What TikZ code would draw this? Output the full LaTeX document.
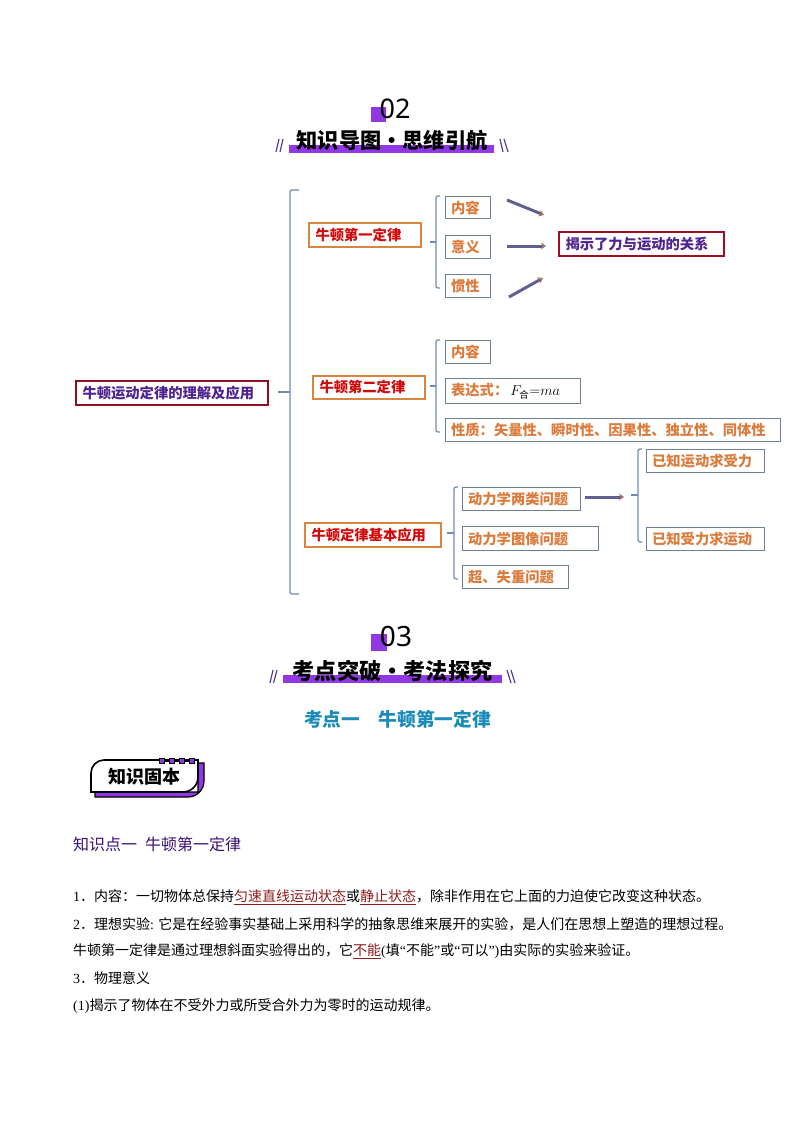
\documentclass[tikz,border=0pt]{standalone}
\usepackage{fontspec}
\setmainfont{Noto Sans CJK SC}
\newfontfamily\latinfont{Liberation Serif}
\newfontfamily\numfont{Noto Sans}
\usepackage{xcolor}
\usetikzlibrary{arrows.meta}
\definecolor{barpurple}{HTML}{9038E4}
\definecolor{slashpurple}{HTML}{5B3A96}
\definecolor{rootred}{HTML}{8E0F24}
\definecolor{rootink}{HTML}{4F2390}
\definecolor{ruleorange}{HTML}{D9843F}
\definecolor{ruleink}{HTML}{D00A0A}
\definecolor{leafline}{HTML}{6E7F98}
\definecolor{leafink}{HTML}{DB7B3C}
\definecolor{braceblue}{HTML}{6F8BB5}
\definecolor{arrowgray}{HTML}{5F6090}
\definecolor{examblue}{HTML}{1B8BB8}
\definecolor{pointink}{HTML}{3A1070}
\definecolor{keyred}{HTML}{8E1A1A}
\newcommand{\keyword}[1]{\textcolor{keyred}{\underline{#1}}}
\newcommand{\lt}[1]{{\latinfont #1}}
\tikzset{
  boxfont/.style={font=\fontsize{14.3}{16}\selectfont\bfseries},
  rootbox/.style={boxfont,draw=rootred,line width=2pt,text=rootink,anchor=north west,inner xsep=6.5pt,inner ysep=0pt,align=left},
  rulebox/.style={boxfont,draw=ruleorange,line width=2pt,text=ruleink,anchor=north west,inner xsep=6.5pt,inner ysep=0pt,align=left},
  leafbox/.style={boxfont,draw=leafline,line width=1.2pt,text=leafink,anchor=north west,inner xsep=5.5pt,inner ysep=0pt,align=left},
  bline/.style={draw=braceblue,line width=1.2pt,rounded corners=2pt},
  arrowline/.style={draw=arrowgray,line width=3pt,-{Stealth[length=5pt,width=7pt,color=ruleorange!60!arrowgray]}},
  slashline/.style={draw=slashpurple,line width=1.2pt},
  bodytext/.style={font=\fontsize{14}{16}\selectfont,anchor=west,inner sep=0pt,text=black},
}
\begin{document}
\begin{tikzpicture}[x=1pt,y=-1pt]
\useasboundingbox (0,0) rectangle (794,1123);
% 标题 02
\fill[barpurple] (371,107) rectangle (386,122);
\node[font=\fontsize{27}{30}\selectfont\numfont,inner sep=0pt,text=black] (numA) at (395,109) {02};
\fill[barpurple] (289,145) rectangle (494,153);
\node[font=\fontsize{21.2}{24}\selectfont\bfseries,inner sep=0pt,text=black] (titleA) at (392,140) {知识导图·思维引航};
\draw[slashline] (276,152) -- (279,139);
\draw[slashline] (280,152) -- (283,139);
\draw[slashline] (500,139) -- (503,152);
\draw[slashline] (504,139) -- (508,152);
% 根节点
\node[rootbox,text width=179pt,minimum height=24pt] (root) at (75,380) {牛顿运动定律的理解及应用};
\coordinate (rootStub) at (278,392);
\coordinate (bigMid) at (290,392);
\coordinate (bigTop) at (299,190);
\coordinate (bigBot) at (299,594);
\draw[bline] (rootStub) -- (bigMid);
\draw[bline] (bigTop) -| (bigMid) |- (bigBot);
% 牛顿第一定律
\node[rulebox,text width=99pt,minimum height=24pt] (ruleA) at (308,222) {牛顿第一定律};
\node[leafbox,text width=34pt,minimum height=22pt] (leafAa) at (445,196) {内容};
\node[leafbox,text width=34pt,minimum height=23pt] (leafAb) at (445,235) {意义};
\node[leafbox,text width=34pt,minimum height=23pt] (leafAc) at (445,274) {惯性};
\node[rootbox,text width=152pt,minimum height=24pt,draw=rootred!85!red] (result) at (558,231) {揭示了力与运动的关系};
\coordinate (stubA) at (430,242);
\coordinate (midA) at (436,242);
\coordinate (topA) at (440,196);
\coordinate (botA) at (440,288);
\draw[bline] (stubA) -- (midA);
\draw[bline] (topA) -| (midA) |- (botA);
\coordinate (arrAa) at (507,200);
\coordinate (arrAb) at (544,215);
\coordinate (arrBa) at (507,246);
\coordinate (arrBb) at (546,246);
\coordinate (arrCa) at (509,297);
\coordinate (arrCb) at (543,278);
\draw[arrowline] (arrAa) -- (arrAb);
\draw[arrowline] (arrBa) -- (arrBb);
\draw[arrowline] (arrCa) -- (arrCb);
% 牛顿第二定律
\node[rulebox,text width=99pt,minimum height=23pt] (ruleB) at (312,375) {牛顿第二定律};
\node[leafbox,text width=34pt,minimum height=23pt] (leafBa) at (445,340) {内容};
\node[leafbox,text width=124pt,minimum height=25pt] (leafBb) at (445,378) {表达式：\mbox{\hspace{2pt}\textcolor{black}{\mdseries\fontsize{15.5}{16}\selectfont$F_{\mbox{\fontsize{9.5}{10}\selectfont 合}}{=}ma$}}};
\node[leafbox,text width=324pt,minimum height=23pt] (leafBc) at (445,418) {性质：矢量性、瞬时性、因果性、独立性、同体性};
\coordinate (stubB) at (430,386);
\coordinate (midB) at (436,386);
\coordinate (topB) at (440,340);
\coordinate (botB) at (440,432);
\draw[bline] (stubB) -- (midB);
\draw[bline] (topB) -| (midB) |- (botB);
% 牛顿定律基本应用
\node[rulebox,text width=123pt,minimum height=24pt] (ruleC) at (304,522) {牛顿定律基本应用};
\node[leafbox,text width=107pt,minimum height=23pt] (leafCa) at (462,487) {动力学两类问题};
\node[leafbox,text width=125pt,minimum height=24pt] (leafCb) at (462,526) {动力学图像问题};
\node[leafbox,text width=95pt,minimum height=23pt] (leafCc) at (462,565) {超、失重问题};
\coordinate (stubC) at (447,533);
\coordinate (midC) at (454,533);
\coordinate (topC) at (458,487);
\coordinate (botC) at (458,579);
\draw[bline] (stubC) -- (midC);
\draw[bline] (topC) -| (midC) |- (botC);
\coordinate (arrDa) at (585,497);
\coordinate (arrDb) at (624,497);
\draw[arrowline] (arrDa) -- (arrDb);
\node[leafbox,text width=107pt,minimum height=23pt] (leafDa) at (646,449) {已知运动求受力};
\node[leafbox,text width=107pt,minimum height=23pt] (leafDb) at (646,527) {已知受力求运动};
\coordinate (stubD) at (631,495);
\coordinate (midD) at (638,495);
\coordinate (topD) at (642,449);
\coordinate (botD) at (642,542);
\draw[bline] (stubD) -- (midD);
\draw[bline] (topD) -| (midD) |- (botD);
% 标题 03
\fill[barpurple] (371,634) rectangle (387,651);
\node[font=\fontsize{28}{30}\selectfont\numfont,inner sep=0pt,text=black] (numB) at (396,636) {03};
\fill[barpurple] (283,675) rectangle (502,683);
\node[font=\fontsize{22.2}{25}\selectfont\bfseries,inner sep=0pt,text=black] (titleB) at (392.5,671) {考点突破·考法探究};
\draw[slashline] (270,683) -- (273,670);
\draw[slashline] (273.5,683) -- (277,670);
\draw[slashline] (507,670) -- (511,683);
\draw[slashline] (511,670) -- (515,683);
\node[font=\fontsize{18.7}{21}\selectfont\bfseries,inner sep=0pt,text=examblue] (examA) at (397.5,719.5) {考点一\hspace{1em}牛顿第一定律};
% 知识固本
\fill[barpurple,draw=black,line width=1.2pt] (95,797) -- (188,797) arc[start angle=90,end angle=0,radius=16] -- (204,763) -- (198,763) -- (198,792) -- (95,792) -- cycle;
\draw[fill=white,draw=black,line width=1.6pt] (91,792) -- (91,773) arc[start angle=180,end angle=270,radius=13] -- (198,760) -- (198,777) arc[start angle=0,end angle=90,radius=15] -- cycle;
\draw[black,line width=1pt] (160,761) -- (194,761);
\draw[fill=barpurple,draw=black,line width=0.9pt] (159.5,758.5) rectangle (164.5,763.5);
\draw[fill=barpurple,draw=black,line width=0.9pt] (169.5,758.5) rectangle (174.5,763.5);
\draw[fill=barpurple,draw=black,line width=0.9pt] (179.5,758.5) rectangle (184.5,763.5);
\draw[fill=barpurple,draw=black,line width=0.9pt] (189.5,758.5) rectangle (194.5,763.5);
\node[font=\fontsize{18}{20}\selectfont\bfseries,inner sep=0pt,text=black] (badge) at (144,777) {知识固本};
% 正文
\node[font=\fontsize{16}{18}\selectfont,anchor=west,inner sep=0pt,text=pointink] (point) at (73,844) {知识点一\hspace{0.5em}牛顿第一定律};
\node[bodytext] (lineA) at (73,897) {\lt{1}．内容：一切物体总保持\keyword{匀速直线运动状态}或\keyword{静止状态}，除非作用在它上面的力迫使它改变这种状态。};
\node[bodytext] (lineB) at (73,924) {\lt{2}．理想实验\lt{:} 它是在经验事实基础上采用科学的抽象思维来展开的实验，是人们在思想上塑造的理想过程。};
\node[bodytext] (lineC) at (73,951) {牛顿第一定律是通过理想斜面实验得出的，它\keyword{不能}\lt{(}填\lt{“}不能\lt{”}或\lt{“}可以\lt{”)}由实际的实验来验证。};
\node[bodytext] (lineD) at (73,978) {\lt{3}．物理意义};
\node[bodytext] (lineE) at (73,1006) {\lt{(1)}揭示了物体在不受外力或所受合外力为零时的运动规律。};
\end{tikzpicture}
\end{document}
